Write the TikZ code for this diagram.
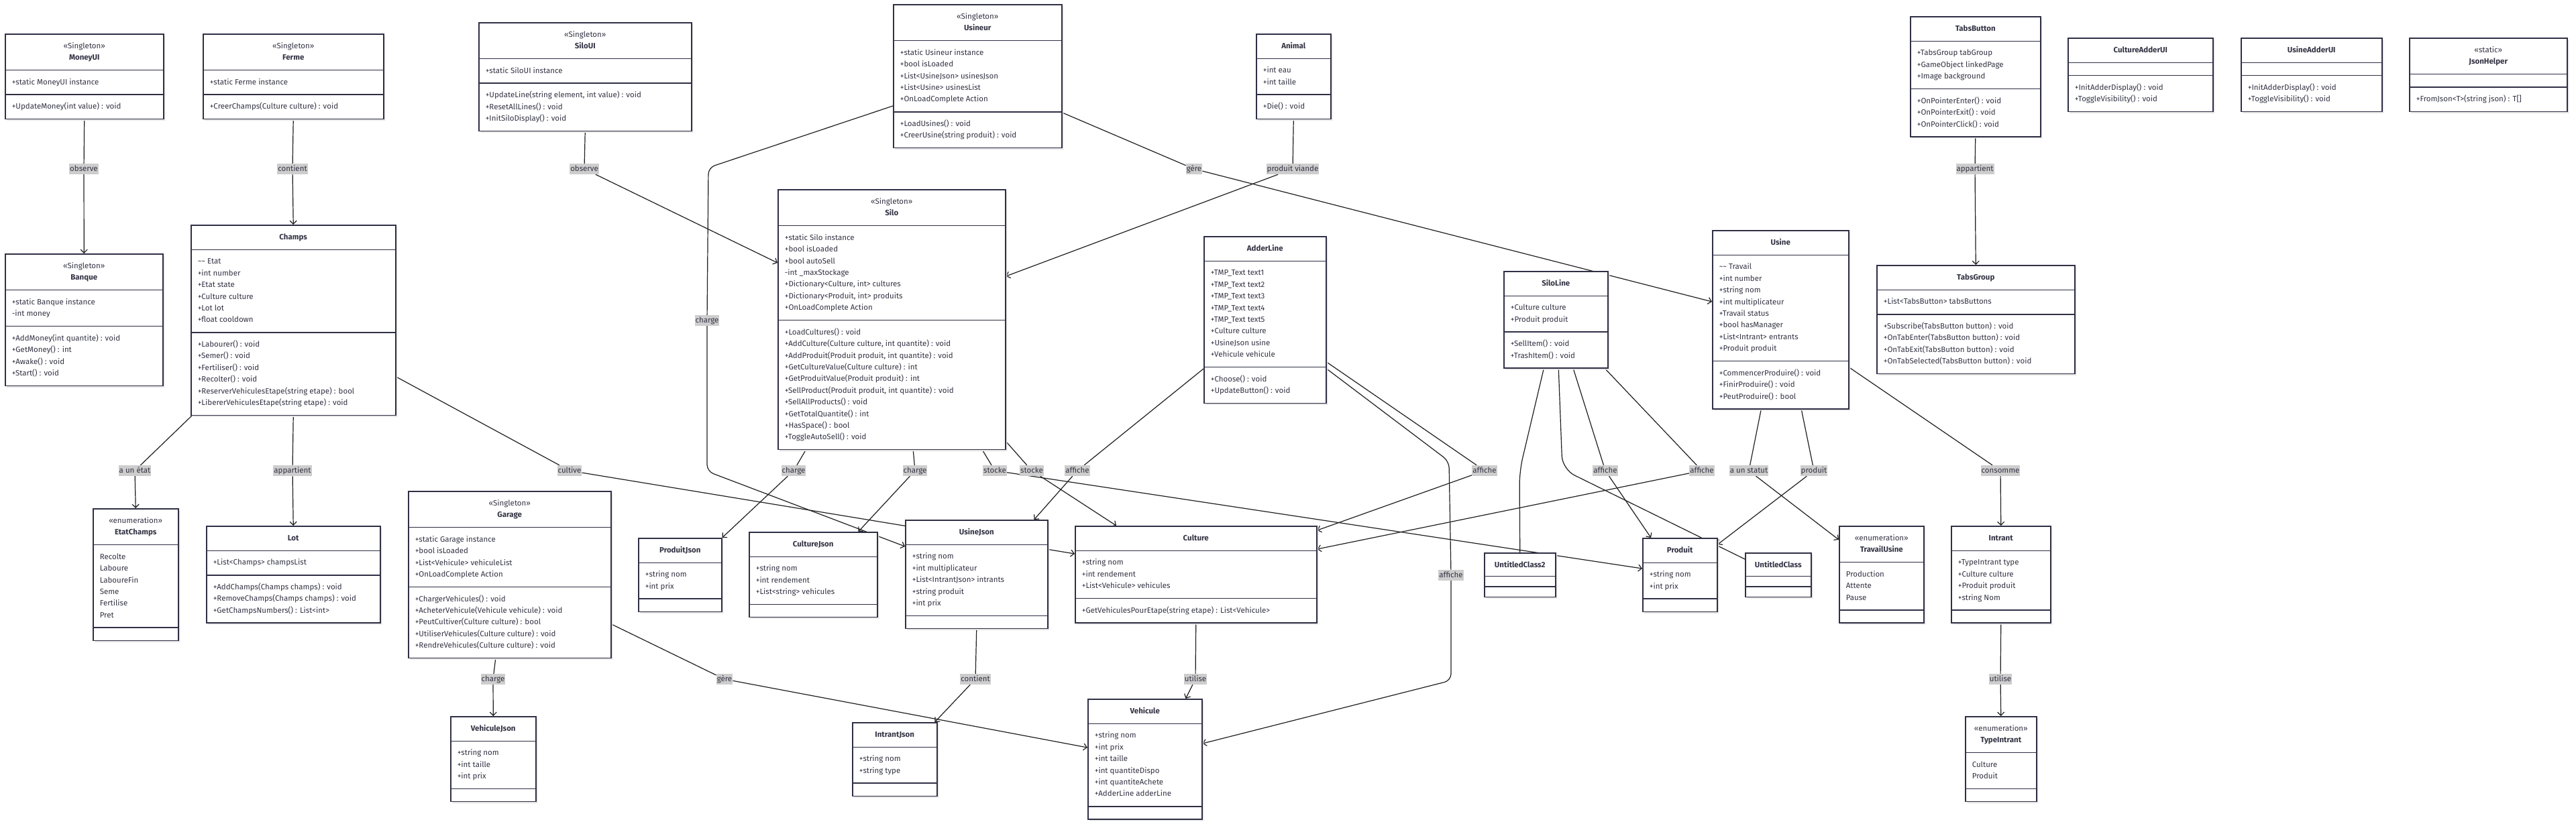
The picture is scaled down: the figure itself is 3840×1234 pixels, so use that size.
\documentclass[tikz,border=0pt]{standalone}
\usepackage{fontspec}
\setmainfont{Fira Sans}
\usetikzlibrary{shapes.multipart, arrows.meta, shadows}

\definecolor{boxline}{HTML}{2F2F45}
\definecolor{boxtext}{HTML}{333344}
\definecolor{edgeline}{HTML}{1F1F1F}
\definecolor{labelbg}{HTML}{CDCDCD}

\newcommand{\umlfont}{\fontsize{11.5}{17.4}\selectfont}
\newcommand{\clshead}[1]{\begin{tabular}{@{}c@{}}#1\end{tabular}}
\newcommand{\clslines}[1]{\begin{tabular}{@{}l@{}}#1\end{tabular}}
\newcommand{\clsnone}{\hbox to 1pt{}}
\newcommand{\stereo}[1]{«#1»}

\pgfdeclarelayer{bg}
\pgfdeclarelayer{edges}
\pgfsetlayers{bg,edges,main}

\tikzset{
  umlclass/.style={rectangle split, rectangle split parts=3,
    rectangle split part align={center,left,left},
    rectangle split ignore empty parts=false,
    draw=boxline, line width=1.5pt, fill=white, text=boxtext, font=\umlfont,
    inner xsep=10pt, inner ysep=8.8pt, anchor=north west,
    drop shadow={shadow xshift=2.5pt, shadow yshift=-2.5pt, fill=black!10, opacity=1}},
  assoc/.style={draw=edgeline, line width=1.2pt, rounded corners=10pt, -{Straight Barb[length=5pt,width=10pt]}},
  link/.style={draw=edgeline, line width=1.2pt, rounded corners=20pt},
  elabel/.style={fill=labelbg, text=boxtext, font=\umlfont, inner xsep=1pt, inner ysep=2pt, text height=9pt, text depth=3pt},
}

\begin{document}
\begin{tikzpicture}[x=1pt, y=-1pt] % 像素坐标，y 向下

    \useasboundingbox (0,0) rectangle (3840,1234);
    \begin{pgfonlayer}{bg}
        \fill[white] (0,0) rectangle (3840,1234);
    \end{pgfonlayer}

    % 1. 左侧：MoneyUI / Ferme / Banque / Champs / EtatChamps / Lot
    \node[umlclass, minimum width=236pt] (moneyui) at (7,50)
        {\clshead{\stereo{Singleton}\\\textbf{MoneyUI}}
         \nodepart{two}\clslines{+static MoneyUI instance}
         \nodepart{three}\clslines{+UpdateMoney(int value) : void}};
    \node[umlclass, minimum width=269pt] (ferme) at (302,50)
        {\clshead{\stereo{Singleton}\\\textbf{Ferme}}
         \nodepart{two}\clslines{+static Ferme instance}
         \nodepart{three}\clslines{+CreerChamps(Culture culture) : void}};
    \node[umlclass, minimum width=235pt] (banque) at (7,378)
        {\clshead{\stereo{Singleton}\\\textbf{Banque}}
         \nodepart{two}\clslines{+static Banque instance\\-int money}
         \nodepart{three}\clslines{+AddMoney(int quantite) : void\\+GetMoney() : int\\+Awake() : void\\+Start() : void}};
    \node[umlclass, minimum width=305pt] (champs) at (284,335)
        {\clshead{\textbf{Champs}}
         \nodepart{two}\clslines{\textasciitilde\textasciitilde{} Etat\\+int number\\+Etat state\\+Culture culture\\+Lot lot\\+float cooldown}
         \nodepart{three}\clslines{+Labourer() : void\\+Semer() : void\\+Fertiliser() : void\\+Recolter() : void\\+ReserverVehiculesEtape(string etape) : bool\\+LibererVehiculesEtape(string etape) : void}};
    \node[umlclass, minimum width=127pt] (etatchamps) at (138,758)
        {\clshead{\stereo{enumeration}\\\textbf{EtatChamps}}
         \nodepart{two}\clslines{Recolte\\Laboure\\LaboureFin\\Seme\\Fertilise\\Pret}
         \nodepart{three}\clsnone};
    \node[umlclass, minimum width=259pt] (lot) at (307,784)
        {\clshead{\textbf{Lot}}
         \nodepart{two}\clslines{+List<Champs> champsList}
         \nodepart{three}\clslines{+AddChamps(Champs champs) : void\\+RemoveChamps(Champs champs) : void\\+GetChampsNumbers() : List<int>}};

    % 2. 中左：SiloUI / Garage / VehiculeJson / Usineur / Silo / 各 Json
    \node[umlclass, minimum width=317pt] (siloui) at (713,33)
        {\clshead{\stereo{Singleton}\\\textbf{SiloUI}}
         \nodepart{two}\clslines{+static SiloUI instance}
         \nodepart{three}\clslines{+UpdateLine(string element, int value) : void\\+ResetAllLines() : void\\+InitSiloDisplay() : void}};
    \node[umlclass, minimum width=302pt] (garage) at (608,732)
        {\clshead{\stereo{Singleton}\\\textbf{Garage}}
         \nodepart{two}\clslines{+static Garage instance\\+bool isLoaded\\+List<Vehicule> vehiculeList\\+OnLoadComplete Action}
         \nodepart{three}\clslines{+ChargerVehicules() : void\\+AcheterVehicule(Vehicule vehicule) : void\\+PeutCultiver(Culture culture) : bool\\+UtiliserVehicules(Culture culture) : void\\+RendreVehicules(Culture culture) : void}};
    \node[umlclass, minimum width=127pt] (vehiculejson) at (671,1068)
        {\clshead{\textbf{VehiculeJson}}
         \nodepart{two}\clslines{+string nom\\+int taille\\+int prix}
         \nodepart{three}\clsnone};
    \node[umlclass, minimum width=251pt] (usineur) at (1331,6)
        {\clshead{\stereo{Singleton}\\\textbf{Usineur}}
         \nodepart{two}\clslines{+static Usineur instance\\+bool isLoaded\\+List<UsineJson> usinesJson\\+List<Usine> usinesList\\+OnLoadComplete Action}
         \nodepart{three}\clslines{+LoadUsines() : void\\+CreerUsine(string produit) : void}};
    \node[umlclass, minimum width=339pt] (silo) at (1159,282)
        {\clshead{\stereo{Singleton}\\\textbf{Silo}}
         \nodepart{two}\clslines{+static Silo instance\\+bool isLoaded\\+bool autoSell\\-int \_maxStockage\\+Dictionary<Culture, int> cultures\\+Dictionary<Produit, int> produits\\+OnLoadComplete Action}
         \nodepart{three}\clslines{+LoadCultures() : void\\+AddCulture(Culture culture, int quantite) : void\\+AddProduit(Produit produit, int quantite) : void\\+GetCultureValue(Culture culture) : int\\+GetProduitValue(Produit produit) : int\\+SellProduct(Produit produit, int quantite) : void\\+SellAllProducts() : void\\+GetTotalQuantite() : int\\+HasSpace() : bool\\+ToggleAutoSell() : void}};
    \node[umlclass, minimum width=124pt] (produitjson) at (951,802)
        {\clshead{\textbf{ProduitJson}}
         \nodepart{two}\clslines{+string nom\\+int prix}
         \nodepart{three}\clsnone};
    \node[umlclass, minimum width=191pt] (culturejson) at (1116,793)
        {\clshead{\textbf{CultureJson}}
         \nodepart{two}\clslines{+string nom\\+int rendement\\+List<string> vehicules}
         \nodepart{three}\clsnone};
    \node[umlclass, minimum width=212pt] (usinejson) at (1349,775)
        {\clshead{\textbf{UsineJson}}
         \nodepart{two}\clslines{+string nom\\+int multiplicateur\\+List<IntrantJson> intrants\\+string produit\\+int prix}
         \nodepart{three}\clsnone};
    \node[umlclass, minimum width=126pt] (intrantjson) at (1270,1077)
        {\clshead{\textbf{IntrantJson}}
         \nodepart{two}\clslines{+string nom\\+string type}
         \nodepart{three}\clsnone};

    % 3. 中部：Animal / AdderLine / Culture / Vehicule
    \node[umlclass, minimum width=111pt] (animal) at (1872,50)
        {\clshead{\textbf{Animal}}
         \nodepart{two}\clslines{+int eau\\+int taille}
         \nodepart{three}\clslines{+Die() : void}};
    \node[umlclass, minimum width=182pt] (adderline) at (1794,352)
        {\clshead{\textbf{AdderLine}}
         \nodepart{two}\clslines{+TMP\_Text text1\\+TMP\_Text text2\\+TMP\_Text text3\\+TMP\_Text text4\\+TMP\_Text text5\\+Culture culture\\+UsineJson usine\\+Vehicule vehicule}
         \nodepart{three}\clslines{+Choose() : void\\+UpdateButton() : void}};
    \node[umlclass, minimum width=360pt] (culture) at (1602,784)
        {\clshead{\textbf{Culture}}
         \nodepart{two}\clslines{+string nom\\+int rendement\\+List<Vehicule> vehicules}
         \nodepart{three}\clslines{+GetVehiculesPourEtape(string etape) : List<Vehicule>}};
    \node[umlclass, minimum width=170pt] (vehicule) at (1621,1042)
        {\clshead{\textbf{Vehicule}}
         \nodepart{two}\clslines{+string nom\\+int prix\\+int taille\\+int quantiteDispo\\+int quantiteAchete\\+AdderLine adderLine}
         \nodepart{three}\clsnone};

    % 4. 右中：SiloLine / Usine / Produit / 未命名类 / TravailUsine
    \node[umlclass, minimum width=155pt] (siloline) at (2241,404)
        {\clshead{\textbf{SiloLine}}
         \nodepart{two}\clslines{+Culture culture\\+Produit produit}
         \nodepart{three}\clslines{+SellItem() : void\\+TrashItem() : void}};
    \node[umlclass, minimum width=203pt] (usine) at (2552,343)
        {\clshead{\textbf{Usine}}
         \nodepart{two}\clslines{\textasciitilde\textasciitilde{} Travail\\+int number\\+string nom\\+int multiplicateur\\+Travail status\\+bool hasManager\\+List<Intrant> entrants\\+Produit produit}
         \nodepart{three}\clslines{+CommencerProduire() : void\\+FinirProduire() : void\\+PeutProduire() : bool}};
    \node[umlclass, minimum width=106pt, inner ysep=7pt] (untitled2) at (2212,824)
        {\clshead{\rule{0pt}{14pt}\textbf{UntitledClass2}}\nodepart{two}\clsnone\nodepart{three}\clsnone};
    \node[umlclass, minimum width=111pt] (produit) at (2448,802)
        {\clshead{\textbf{Produit}}
         \nodepart{two}\clslines{+string nom\\+int prix}
         \nodepart{three}\clsnone};
    \node[umlclass, minimum width=98pt, inner ysep=7pt] (untitled) at (2601,824)
        {\clshead{\rule{0pt}{14pt}\textbf{UntitledClass}}\nodepart{two}\clsnone\nodepart{three}\clsnone};
    \node[umlclass, minimum width=126pt] (travailusine) at (2741,784)
        {\clshead{\stereo{enumeration}\\\textbf{TravailUsine}}
         \nodepart{two}\clslines{Production\\Attente\\Pause}
         \nodepart{three}\clsnone};

    % 5. 右侧：Tabs / Intrant / TypeIntrant / UI 类 / JsonHelper
    \node[umlclass, minimum width=194pt] (tabsbutton) at (2847,24)
        {\clshead{\textbf{TabsButton}}
         \nodepart{two}\clslines{+TabsGroup tabGroup\\+GameObject linkedPage\\+Image background}
         \nodepart{three}\clslines{+OnPointerEnter() : void\\+OnPointerExit() : void\\+OnPointerClick() : void}};
    \node[umlclass, minimum width=295pt] (tabsgroup) at (2797,395)
        {\clshead{\textbf{TabsGroup}}
         \nodepart{two}\clslines{+List<TabsButton> tabsButtons}
         \nodepart{three}\clslines{+Subscribe(TabsButton button) : void\\+OnTabEnter(TabsButton button) : void\\+OnTabExit(TabsButton button) : void\\+OnTabSelected(TabsButton button) : void}};
    \node[umlclass, minimum width=148pt] (intrant) at (2908,784)
        {\clshead{\textbf{Intrant}}
         \nodepart{two}\clslines{+TypeIntrant type\\+Culture culture\\+Produit produit\\+string Nom}
         \nodepart{three}\clsnone};
    \node[umlclass, minimum width=106pt] (typeintrant) at (2929,1068)
        {\clshead{\stereo{enumeration}\\\textbf{TypeIntrant}}
         \nodepart{two}\clslines{Culture\\Produit}
         \nodepart{three}\clsnone};
    \node[umlclass, minimum width=216pt] (cultureadderui) at (3082,56)
        {\clshead{\textbf{CultureAdderUI}}
         \nodepart{two}\clsnone
         \nodepart{three}\clslines{+InitAdderDisplay() : void\\+ToggleVisibility() : void}};
    \node[umlclass, minimum width=210pt] (usineadderui) at (3340,56)
        {\clshead{\textbf{UsineAdderUI}}
         \nodepart{two}\clsnone
         \nodepart{three}\clslines{+InitAdderDisplay() : void\\+ToggleVisibility() : void}};
    \node[umlclass, minimum width=235pt] (jsonhelper) at (3591,56)
        {\clshead{\stereo{static}\\\textbf{JsonHelper}}
         \nodepart{two}\clsnone
         \nodepart{three}\clslines{+FromJson<T>(string json) : T[]}};

    % 6. 连线标签（灰底）
    \node[elabel] (lobsmoney) at (125,252) {observe};
    \node[elabel] (lcontferme) at (436,252) {contient};
    \node[elabel] (lobssilo) at (871,252) {observe};
    \node[elabel] (lgereusine) at (1780,252) {gère};
    \node[elabel] (lviande) at (1927,252) {produit viande};
    \node[elabel] (lapptabs) at (2944,252) {appartient};
    \node[elabel] (lchargeusine) at (1054,478) {charge};
    \node[elabel] (letat) at (201,702) {a un état};
    \node[elabel] (lapplot) at (436,702) {appartient};
    \node[elabel] (lcultive) at (849,702) {cultive};
    \node[elabel] (lchargepj) at (1183,702) {charge};
    \node[elabel] (lchargecj) at (1364,702) {charge};
    \node[elabel] (lstockp) at (1483,702) {stocke};
    \node[elabel] (lstockc) at (1538,702) {stocke};
    \node[elabel] (laffuj) at (1606,702) {affiche};
    \node[elabel] (laffcult) at (2213,702) {affiche};
    \node[elabel] (laffveh) at (2163,858) {affiche};
    \node[elabel] (laffprod) at (2393,702) {affiche};
    \node[elabel] (laffcult2) at (2537,702) {affiche};
    \node[elabel] (lstatut) at (2607,702) {a un statut};
    \node[elabel] (lproduit) at (2704,702) {produit};
    \node[elabel] (lconsomme) at (2982,702) {consomme};
    \node[elabel] (lchargegar) at (735,1013) {charge};
    \node[elabel] (lgeregar) at (1080,1013) {gère};
    \node[elabel] (lcontuj) at (1454,1013) {contient};
    \node[elabel] (lutilveh) at (1782,1013) {utilise};
    \node[elabel] (lutiltype) at (2982,1013) {utilise};

    % 7. 关联连线（画在类框下面）
    \begin{pgfonlayer}{edges}
        \draw[assoc] (moneyui.south) -- (lobsmoney) -- (banque.north);
        \draw[assoc] (ferme.south) -- (lcontferme) -- (champs.north);
        \draw[assoc] ([xshift=2pt]champs.south west) -- (letat) -- (etatchamps.north);
        \draw[assoc] (champs.south) -- (lapplot) -- (lot.north);
        \draw[assoc] ([yshift=-227pt]champs.north east) -- (lcultive) -- ([yshift=-42pt]culture.north west);
        \draw[assoc] (siloui.south) -- (lobssilo) -- ([yshift=-110pt]silo.north west);
        \draw[assoc] ([yshift=-152pt]usineur.north west) -- (1056,250) -- (lchargeusine)
            -- (1054,703) -- ([yshift=-40pt]usinejson.north west);
        \draw[assoc] ([yshift=-162pt]usineur.north east) -- (lgereusine) -- ([yshift=-107pt]usine.north west);
        \draw[assoc] (animal.south) -- (lviande) -- ([yshift=-130pt]silo.north east);
        \draw[assoc] ([xshift=42pt]silo.south west) -- (lchargepj) -- (produitjson.north east);
        \draw[assoc] ([xshift=32pt]silo.south) -- (lchargecj) -- ([xshift=-29pt]culturejson.north east);
        \draw[assoc] ([xshift=-35pt]silo.south east) -- (lstockp) -- ([yshift=-46pt]produit.north west);
        \draw[assoc] ([yshift=13pt]silo.south east) -- (lstockc) -- ([xshift=62pt]culture.north west);
        \draw[assoc] ([yshift=-198pt]adderline.north west) -- (laffuj) -- ([xshift=-21pt]usinejson.north east);
        \draw[assoc] ([yshift=-188pt]adderline.north east) -- (laffcult) -- ([yshift=-7pt]culture.north east);
        \draw[assoc] ([yshift=-198pt]adderline.north east) -- (2160,688) -- (laffveh)
            -- (2163,1015) -- ([yshift=-67pt]vehicule.north east);
        \draw[assoc] (culture.south) -- (lutilveh) -- ([xshift=-25pt]vehicule.north east);
        \draw[assoc] ([xshift=-21pt]garage.south) -- (lchargegar) -- (vehiculejson.north);
        \draw[assoc] ([yshift=-199pt]garage.north east) -- (lgeregar) -- ([yshift=-73pt]vehicule.north west);
        \draw[assoc] (usinejson.south) -- (lcontuj) -- ([xshift=-4pt]intrantjson.north east);
        \draw[assoc] ([xshift=26pt]siloline.south) -- (laffprod) -- ([xshift=13pt]produit.north west);
        \draw[assoc] ([xshift=-5pt]siloline.south east) -- (laffcult2) -- ([yshift=-35pt]culture.north east);
        \draw[link] ([xshift=-18pt]siloline.south) -- (2265,703) -- (untitled2.north);
        \draw[link] ([xshift=4pt]siloline.south) -- (2329,700) -- ([yshift=-10pt]untitled.north west);
        \draw[assoc] ([xshift=-29pt]usine.south) -- (lstatut) -- ([yshift=-21pt]travailusine.north west);
        \draw[assoc] ([xshift=31pt]usine.south) -- (lproduit) -- ([yshift=-10pt]produit.north east);
        \draw[assoc] ([yshift=-205pt]usine.north east) -- (lconsomme) -- (intrant.north);
        \draw[assoc] (tabsbutton.south) -- (lapptabs) -- (tabsgroup.north);
        \draw[assoc] (intrant.south) -- (lutiltype) -- (typeintrant.north);
    \end{pgfonlayer}

\end{tikzpicture}
\end{document}
